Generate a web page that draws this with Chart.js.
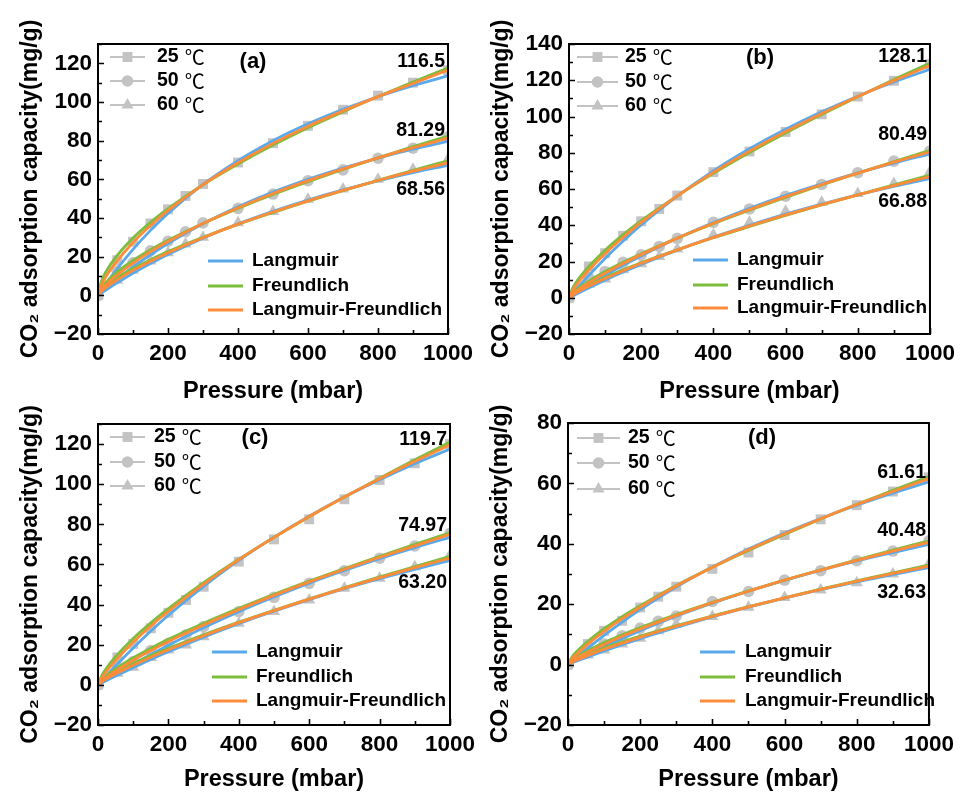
<!DOCTYPE html>
<html>
<head>
<meta charset="utf-8">
<script src="https://cdn.jsdelivr.net/npm/chart.js@4.4.1/dist/chart.umd.min.js"></script>
<style>
  body { margin: 0; background: #fff; }
  #wrap { position: relative; width: 966px; height: 800px; background: #fff; overflow: hidden; }
  #wrap canvas { position: absolute; }
</style>
</head>
<body>
<div id="wrap">
  <canvas id="chartA" width="490" height="410" style="left:0px;top:0px"></canvas>
  <canvas id="chartB" width="490" height="410" style="left:471px;top:0px"></canvas>
  <canvas id="chartC" width="490" height="420" style="left:0px;top:380px"></canvas>
  <canvas id="chartD" width="490" height="421" style="left:470px;top:379px"></canvas>
</div>
<script>
// Measured pressures (mbar) and fitted-curve sample pressures
const pressure = [0, 55, 100, 150, 200, 250, 300, 400, 500, 600, 700, 800, 900, 1000];
const fitPressure = [0, 10, 25, 50, 100, 150, 200, 300, 400, 500, 600, 700, 800, 900, 1000];
const temps = ['25', '50', '60'];
const models = ['Langmuir', 'Freundlich', 'Langmuir-Freundlich'];

// (a) measured
const a25 = [0, 18.2, 27.7, 37.2, 44.5, 51.4, 57.6, 68.7, 78.7, 87.7, 96, 103.3, 110, 116.5];
const a50 = [0, 12.5, 16.8, 23, 28, 32.9, 37.5, 45, 52.4, 59.3, 64.9, 70.9, 76.1, 82];
const a60 = [0, 7.8, 13, 17.8, 22, 26.5, 30, 37.5, 43.3, 49.7, 55, 60, 65.2, 70.4];
// (a) fits
const aL25 = [0, 2.7, 6.6, 12.7, 23.8, 33.6, 42.4, 57.4, 69.7, 80.0, 88.7, 96.2, 102.7, 108.4, 113.5];
const aF25 = [0, 7.4, 12.9, 19.5, 29.6, 37.7, 44.8, 57.2, 67.9, 77.7, 86.7, 94.9, 102.8, 110.3, 117.6];
const aLF25 = [0, 5.5, 10.4, 16.8, 27.3, 36.1, 43.9, 57.3, 68.6, 78.6, 87.5, 95.4, 102.8, 109.6, 116.5];
const aL50 = [0, 1.6, 3.9, 7.7, 14.7, 21.0, 26.8, 37.0, 45.8, 53.4, 60.0, 65.8, 71.0, 75.6, 79.7];
const aF50 = [0, 3.9, 7.2, 11.4, 18.0, 23.6, 28.5, 37.2, 45.0, 52.2, 58.8, 65.1, 71.1, 76.9, 82.4];
const aLF50 = [0, 3.0, 5.9, 9.9, 16.7, 22.6, 27.8, 37.1, 45.3, 52.7, 59.3, 65.4, 71.1, 76.4, 81.3];
const aL60 = [0, 1.2, 3.0, 5.9, 11.4, 16.4, 21.1, 29.6, 37.0, 43.5, 49.3, 54.5, 59.2, 63.5, 67.3];
const aF60 = [0, 2.8, 5.3, 8.5, 13.9, 18.4, 22.6, 30.0, 36.7, 42.8, 48.7, 54.2, 59.5, 64.7, 69.6];
const aLF60 = [0, 2.2, 4.4, 7.5, 12.9, 17.6, 22.0, 29.8, 36.8, 43.1, 48.9, 54.3, 59.4, 64.2, 68.6];

// (b) measured
const b25 = [0, 17.3, 24.6, 34.2, 42.2, 49, 56.4, 69.3, 80.7, 91.5, 101.2, 111, 119.7, 128.9];
const b50 = [0, 11, 14.5, 19.5, 23.7, 28.3, 32.8, 41.6, 49, 56, 62.5, 69, 75.4, 81];
const b60 = [0, 7.5, 10.3, 15.4, 18.7, 22.8, 26.9, 34.8, 41.6, 47.7, 52.7, 57.5, 63, 69.5];
// (b) fits
const bL25 = [0, 2.3, 5.8, 11.3, 21.7, 31.3, 40.2, 56.1, 70.0, 82.2, 93.0, 102.6, 111.2, 119.0, 126.0];
const bF25 = [0, 5.3, 10.0, 16.2, 26.2, 34.8, 42.5, 56.2, 68.6, 80.1, 90.9, 101.1, 110.9, 120.4, 129.5];
const bLF25 = [0, 4.1, 8.3, 14.2, 24.4, 33.4, 41.6, 56.2, 69.2, 80.9, 91.7, 101.7, 111.0, 119.8, 128.1];
const bL50 = [0, 1.3, 3.2, 6.3, 12.3, 17.9, 23.1, 32.8, 41.5, 49.4, 56.5, 62.9, 68.9, 74.3, 79.3];
const bF50 = [0, 2.6, 5.1, 8.6, 14.5, 19.6, 24.3, 32.9, 40.9, 48.3, 55.4, 62.2, 68.8, 75.1, 81.3];
const bLF50 = [0, 2.1, 4.4, 7.7, 13.6, 18.9, 23.8, 32.9, 41.1, 48.7, 55.8, 62.5, 68.8, 74.8, 80.5];
const bL60 = [0, 1.0, 2.5, 5.0, 9.7, 14.2, 18.4, 26.3, 33.5, 40.0, 46.1, 51.6, 56.7, 61.4, 65.8];
const bF60 = [0, 1.9, 3.8, 6.5, 11.2, 15.4, 19.3, 26.4, 33.1, 39.3, 45.4, 51.2, 56.8, 62.3, 67.6];
const bLF60 = [0, 1.5, 3.3, 5.9, 10.6, 14.9, 19.0, 26.4, 33.3, 39.6, 45.7, 51.4, 56.8, 61.9, 66.9];

// (c) measured
const c25 = [0, 13.7, 20.4, 28.2, 35.9, 42.3, 48.9, 61.4, 72.5, 82.5, 92.5, 102.1, 110.4, 120];
const c50 = [0, 9, 11.6, 17.1, 20.7, 24.9, 29, 36.5, 43.6, 50.6, 56.9, 63.1, 69.2, 75.5];
const c60 = [0, 5.8, 8.8, 13.7, 17.4, 19.9, 24, 30.7, 36.5, 42.3, 48.1, 53.1, 58.9, 64.7];
// (c) fits
const cL25 = [0, 2.0, 4.8, 9.5, 18.4, 26.8, 34.7, 49.1, 62.0, 73.6, 84.1, 93.6, 102.2, 110.2, 117.5];
const cF25 = [0, 4.4, 8.5, 14.0, 23.1, 30.9, 38.0, 50.9, 62.6, 73.5, 83.8, 93.6, 103.0, 112.2, 121.0];
const cLF25 = [0, 3.4, 7.0, 12.2, 21.2, 29.3, 36.7, 50.2, 62.4, 73.5, 83.9, 93.6, 102.7, 111.4, 119.7];
const cL50 = [0, 1.1, 2.7, 5.3, 10.4, 15.2, 19.8, 28.5, 36.5, 43.8, 50.7, 57.0, 62.9, 68.4, 73.5];
const cF50 = [0, 2.4, 4.8, 8.0, 13.5, 18.3, 22.7, 30.7, 38.1, 45.1, 51.7, 58.0, 64.1, 70.0, 75.8];
const cLF50 = [0, 1.9, 3.9, 6.9, 12.3, 17.1, 21.6, 29.8, 37.5, 44.6, 51.3, 57.6, 63.6, 69.3, 75.0];
const cL60 = [0, 0.9, 2.2, 4.4, 8.6, 12.7, 16.5, 23.8, 30.5, 36.7, 42.5, 47.9, 52.9, 57.6, 62.0];
const cF60 = [0, 1.8, 3.6, 6.2, 10.6, 14.6, 18.2, 25.0, 31.3, 37.2, 42.9, 48.4, 53.8, 58.9, 64.0];
const cLF60 = [0, 1.4, 3.1, 5.5, 9.8, 13.8, 17.5, 24.5, 31.0, 37.0, 42.7, 48.2, 53.4, 58.4, 63.2];

// (d) measured
const d25 = [0, 6.8, 11.2, 14.5, 18.9, 22.5, 25.8, 31.7, 37.1, 42.9, 48.1, 52.8, 57.3, 62];
const d50 = [0, 4.8, 6.8, 9.5, 12.1, 14.3, 16.1, 20.9, 24.2, 28, 31.1, 34.4, 37.6, 41];
const d60 = [0, 3.2, 4.8, 6.8, 8.7, 11.2, 13.4, 15.9, 19, 22.2, 24.7, 27.1, 30, 33.3];
// (d) fits
const dL25 = [0, 1.0, 2.6, 5.0, 9.7, 14.1, 18.2, 25.7, 32.3, 38.3, 43.6, 48.4, 52.8, 56.8, 60.5];
const dF25 = [0, 2.3, 4.4, 7.2, 11.9, 15.9, 19.5, 26.2, 32.2, 37.8, 43.1, 48.2, 53.1, 57.7, 62.3];
const dLF25 = [0, 1.8, 3.6, 6.3, 11.0, 15.2, 19.0, 26.0, 32.2, 38.0, 43.3, 48.3, 53.0, 57.3, 61.6];
const dL50 = [0, 0.6, 1.5, 3.0, 5.9, 8.6, 11.2, 16.0, 20.3, 24.3, 27.9, 31.2, 34.3, 37.1, 39.8];
const dF50 = [0, 1.3, 2.6, 4.3, 7.3, 9.9, 12.3, 16.6, 20.6, 24.4, 28.0, 31.4, 34.7, 37.9, 41.0];
const dLF50 = [0, 1.0, 2.2, 3.8, 6.7, 9.4, 11.8, 16.3, 20.5, 24.3, 28.0, 31.3, 34.5, 37.6, 40.5];
const dL60 = [0, 0.5, 1.2, 2.3, 4.5, 6.6, 8.6, 12.3, 15.8, 19.0, 22.0, 24.8, 27.4, 29.8, 32.1];
const dF60 = [0, 0.9, 1.9, 3.2, 5.5, 7.5, 9.4, 12.9, 16.1, 19.2, 22.1, 25.0, 27.7, 30.4, 33.0];
const dLF60 = [0, 0.7, 1.6, 2.8, 5.1, 7.1, 9.1, 12.7, 16.0, 19.1, 22.1, 24.9, 27.6, 30.2, 32.6];

// end-of-curve value labels
const aEnd = ['116.5', '81.29', '68.56'];
const bEnd = ['128.1', '80.49', '66.88'];
const cEnd = ['119.7', '74.97', '63.20'];
const dEnd = ['61.61', '40.48', '32.63'];

const FONT = "'Liberation Sans', Arial, Helvetica, sans-serif";
const markerGray = '#c3c3c3';
const fitColors = ['#5aa9ea', '#7dbd3c', '#ff8c3a'];
const markerStyles = ['rect', 'circle', 'triangle'];
const markerRadius = [7, 5.8, 7];

const panels = [
  { id: 'chartA', letter: '(a)', yMax: 130, measured: [a25, a50, a60],
    fits: [[aL25, aL50, aL60], [aF25, aF50, aF60], [aLF25, aLF50, aLF60]], ends: aEnd,
    padRight: 42, xAxisH: 76, xTitlePad: 4,
    letterPos: [155, 18], tempLeg: { x0: 12, x1: 47, tx: 59, y: [13, 37, 61] },
    fitLeg: { x0: 110, x1: 145, tx: 154, y: [-73, -48, -24] }, endOff: [-8, -8, 27] },
  { id: 'chartB', letter: '(b)', yMax: 140, measured: [b25, b50, b60],
    fits: [[bL25, bL50, bL60], [bF25, bF50, bF60], [bLF25, bLF50, bLF60]], ends: bEnd,
    padRight: 21, xAxisH: 76, xTitlePad: 4,
    letterPos: [191, 14], tempLeg: { x0: 8, x1: 49, tx: 56, y: [13, 38, 62] },
    fitLeg: { x0: 124, x1: 159, tx: 168, y: [-74, -49, -26] }, endOff: [-9, -17, 25] },
  { id: 'chartC', letter: '(c)', yMax: 130, measured: [c25, c50, c60],
    fits: [[cL25, cL50, cL60], [cF25, cF50, cF60], [cLF25, cLF50, cLF60]], ends: cEnd,
    padRight: 40, xAxisH: 75, xTitlePad: 6,
    letterPos: [157, 14], tempLeg: { x0: 12, x1: 47, tx: 56, y: [13, 38, 62] },
    fitLeg: { x0: 114, x1: 149, tx: 158, y: [-73, -48, -24] }, endOff: [-5, -9, 25] },
  { id: 'chartD', letter: '(d)', yMax: 80, measured: [d25, d50, d60],
    fits: [[dL25, dL50, dL60], [dF25, dF50, dF60], [dLF25, dLF50, dLF60]], ends: dEnd,
    padRight: 19, xAxisH: 75, xTitlePad: 6,
    letterPos: [194, 15], tempLeg: { x0: 9, x1: 52, tx: 60, y: [15, 40, 66] },
    fitLeg: { x0: 132, x1: 167, tx: 177, y: [-73, -48, -24] }, endOff: [-6, -12, 27] }
];

// Frame, inward ticks, legends and labels drawn on top of the datasets
const decor = {
  id: 'decor',
  afterDatasetsDraw(chart, args, opts) {
    const p = opts.panel;
    const { ctx, chartArea: a, scales: { x, y } } = chart;
    ctx.save();
    ctx.strokeStyle = '#000';
    ctx.lineWidth = 2;
    ctx.strokeRect(a.left, a.top, a.right - a.left, a.bottom - a.top);

    // inward tick marks
    ctx.lineWidth = 1.6;
    ctx.beginPath();
    y.ticks.forEach(t => {
      const py = Math.round(y.getPixelForValue(t.value)) + 0.5;
      const len = t.value % 20 === 0 ? 6 : 4;
      ctx.moveTo(a.left, py);
      ctx.lineTo(a.left + len, py);
    });
    x.ticks.forEach(t => {
      const px = Math.round(x.getPixelForValue(t.value)) + 0.5;
      const len = t.value % 200 === 0 ? 6 : 4;
      ctx.moveTo(px, a.bottom);
      ctx.lineTo(px, a.bottom - len);
    });
    ctx.stroke();

    // panel letter
    ctx.fillStyle = '#000';
    ctx.textBaseline = 'middle';
    ctx.textAlign = 'center';
    ctx.font = 'bold 22px ' + FONT;
    ctx.fillText(p.letter, a.left + p.letterPos[0], a.top + p.letterPos[1]);

    // end value labels
    ctx.textAlign = 'right';
    ctx.font = 'bold 19.5px ' + FONT;
    p.ends.forEach((txt, i) => {
      const py = y.getPixelForValue(parseFloat(txt)) + p.endOff[i];
      ctx.fillText(txt, a.right - 3, py);
    });

    // temperature legend (top left)
    const tl = p.tempLeg;
    temps.forEach((t, i) => {
      const py = a.top + tl.y[i];
      ctx.strokeStyle = markerGray;
      ctx.lineWidth = 2;
      ctx.beginPath();
      ctx.moveTo(a.left + tl.x0, py);
      ctx.lineTo(a.left + tl.x1, py);
      ctx.stroke();
      ctx.fillStyle = markerGray;
      Chart.helpers.drawPoint(ctx, { pointStyle: markerStyles[i], radius: markerRadius[i], rotation: 0, borderWidth: 0 },
        a.left + (tl.x0 + tl.x1) / 2, py);
      ctx.fillStyle = '#000';
      ctx.textAlign = 'left';
      ctx.font = 'bold 19.5px ' + FONT;
      ctx.fillText(t, a.left + tl.tx, py);
      const w = ctx.measureText(t).width;
      ctx.font = "20px 'Noto Sans CJK SC', 'DejaVu Sans', sans-serif";
      ctx.fillText('\u2103', a.left + tl.tx + w + 6, py);
    });

    // model legend (bottom right)
    const fl = p.fitLeg;
    models.forEach((m, i) => {
      const py = a.bottom + fl.y[i];
      ctx.strokeStyle = fitColors[i];
      ctx.lineWidth = 2.8;
      ctx.beginPath();
      ctx.moveTo(a.left + fl.x0, py);
      ctx.lineTo(a.left + fl.x1, py);
      ctx.stroke();
      ctx.fillStyle = '#000';
      ctx.textAlign = 'left';
      ctx.font = 'bold 19px ' + FONT;
      ctx.fillText(m, a.left + fl.tx, py);
    });
    ctx.restore();
  }
};

function toPoints(xs, ys) {
  return xs.map((v, i) => ({ x: v, y: ys[i] }));
}

panels.forEach(p => {
  const datasets = [];
  // fitted curves: orange on top, then green, then blue
  p.fits.forEach((series, m) => {
    series.forEach((vals, t) => {
      datasets.push({
        label: models[m] + ' ' + temps[t],
        data: toPoints(fitPressure, vals),
        showLine: true,
        borderColor: fitColors[m],
        borderWidth: 2.8,
        pointRadius: 0,
        cubicInterpolationMode: 'monotone',
        order: 3 - m
      });
    });
  });
  // measured points underneath
  p.measured.forEach((vals, t) => {
    datasets.push({
      label: temps[t] + ' \u2103',
      data: toPoints(pressure, vals),
      showLine: false,
      pointStyle: markerStyles[t],
      pointRadius: markerRadius[t],
      backgroundColor: markerGray,
      borderWidth: 0,
      order: 10
    });
  });

  new Chart(document.getElementById(p.id), {
    type: 'scatter',
    data: { datasets: datasets },
    options: {
      responsive: false,
      animation: false,
      layout: { padding: { top: 44, right: p.padRight, left: 0, bottom: 0 } },
      plugins: {
        legend: { display: false },
        tooltip: { enabled: false },
        decor: { panel: p }
      },
      scales: {
        x: {
          type: 'linear',
          min: 0,
          max: 1000,
          grid: { display: false, drawTicks: false },
          border: { display: false },
          ticks: {
            stepSize: 100,
            autoSkip: false,
            maxRotation: 0,
            padding: 6,
            color: '#000',
            font: { family: FONT, size: 22.5, weight: 'bold' },
            callback: v => (v % 200 === 0 ? String(v) : '')
          },
          title: {
            display: true,
            text: 'Pressure (mbar)',
            color: '#000',
            font: { family: FONT, size: 23.5, weight: 'bold' },
            padding: { top: 0, bottom: p.xTitlePad }
          },
          afterFit: s => { s.height = p.xAxisH; }
        },
        y: {
          type: 'linear',
          min: -20,
          max: p.yMax,
          grid: { display: false, drawTicks: false },
          border: { display: false },
          ticks: {
            stepSize: 10,
            autoSkip: false,
            padding: 6,
            color: '#000',
            font: { family: FONT, size: 22.5, weight: 'bold' },
            callback: v => (v % 20 === 0 ? String(v).replace('-', '\u2212') : '')
          },
          title: {
            display: true,
            text: 'CO\u2082 adsorption capacity(mg/g)',
            color: '#000',
            font: { family: FONT, size: 23, weight: 'bold' },
            padding: { top: 17, bottom: 0 }
          },
          afterFit: s => { s.width = 98; }
        }
      }
    },
    plugins: [decor]
  });
});
</script>
</body>
</html>
